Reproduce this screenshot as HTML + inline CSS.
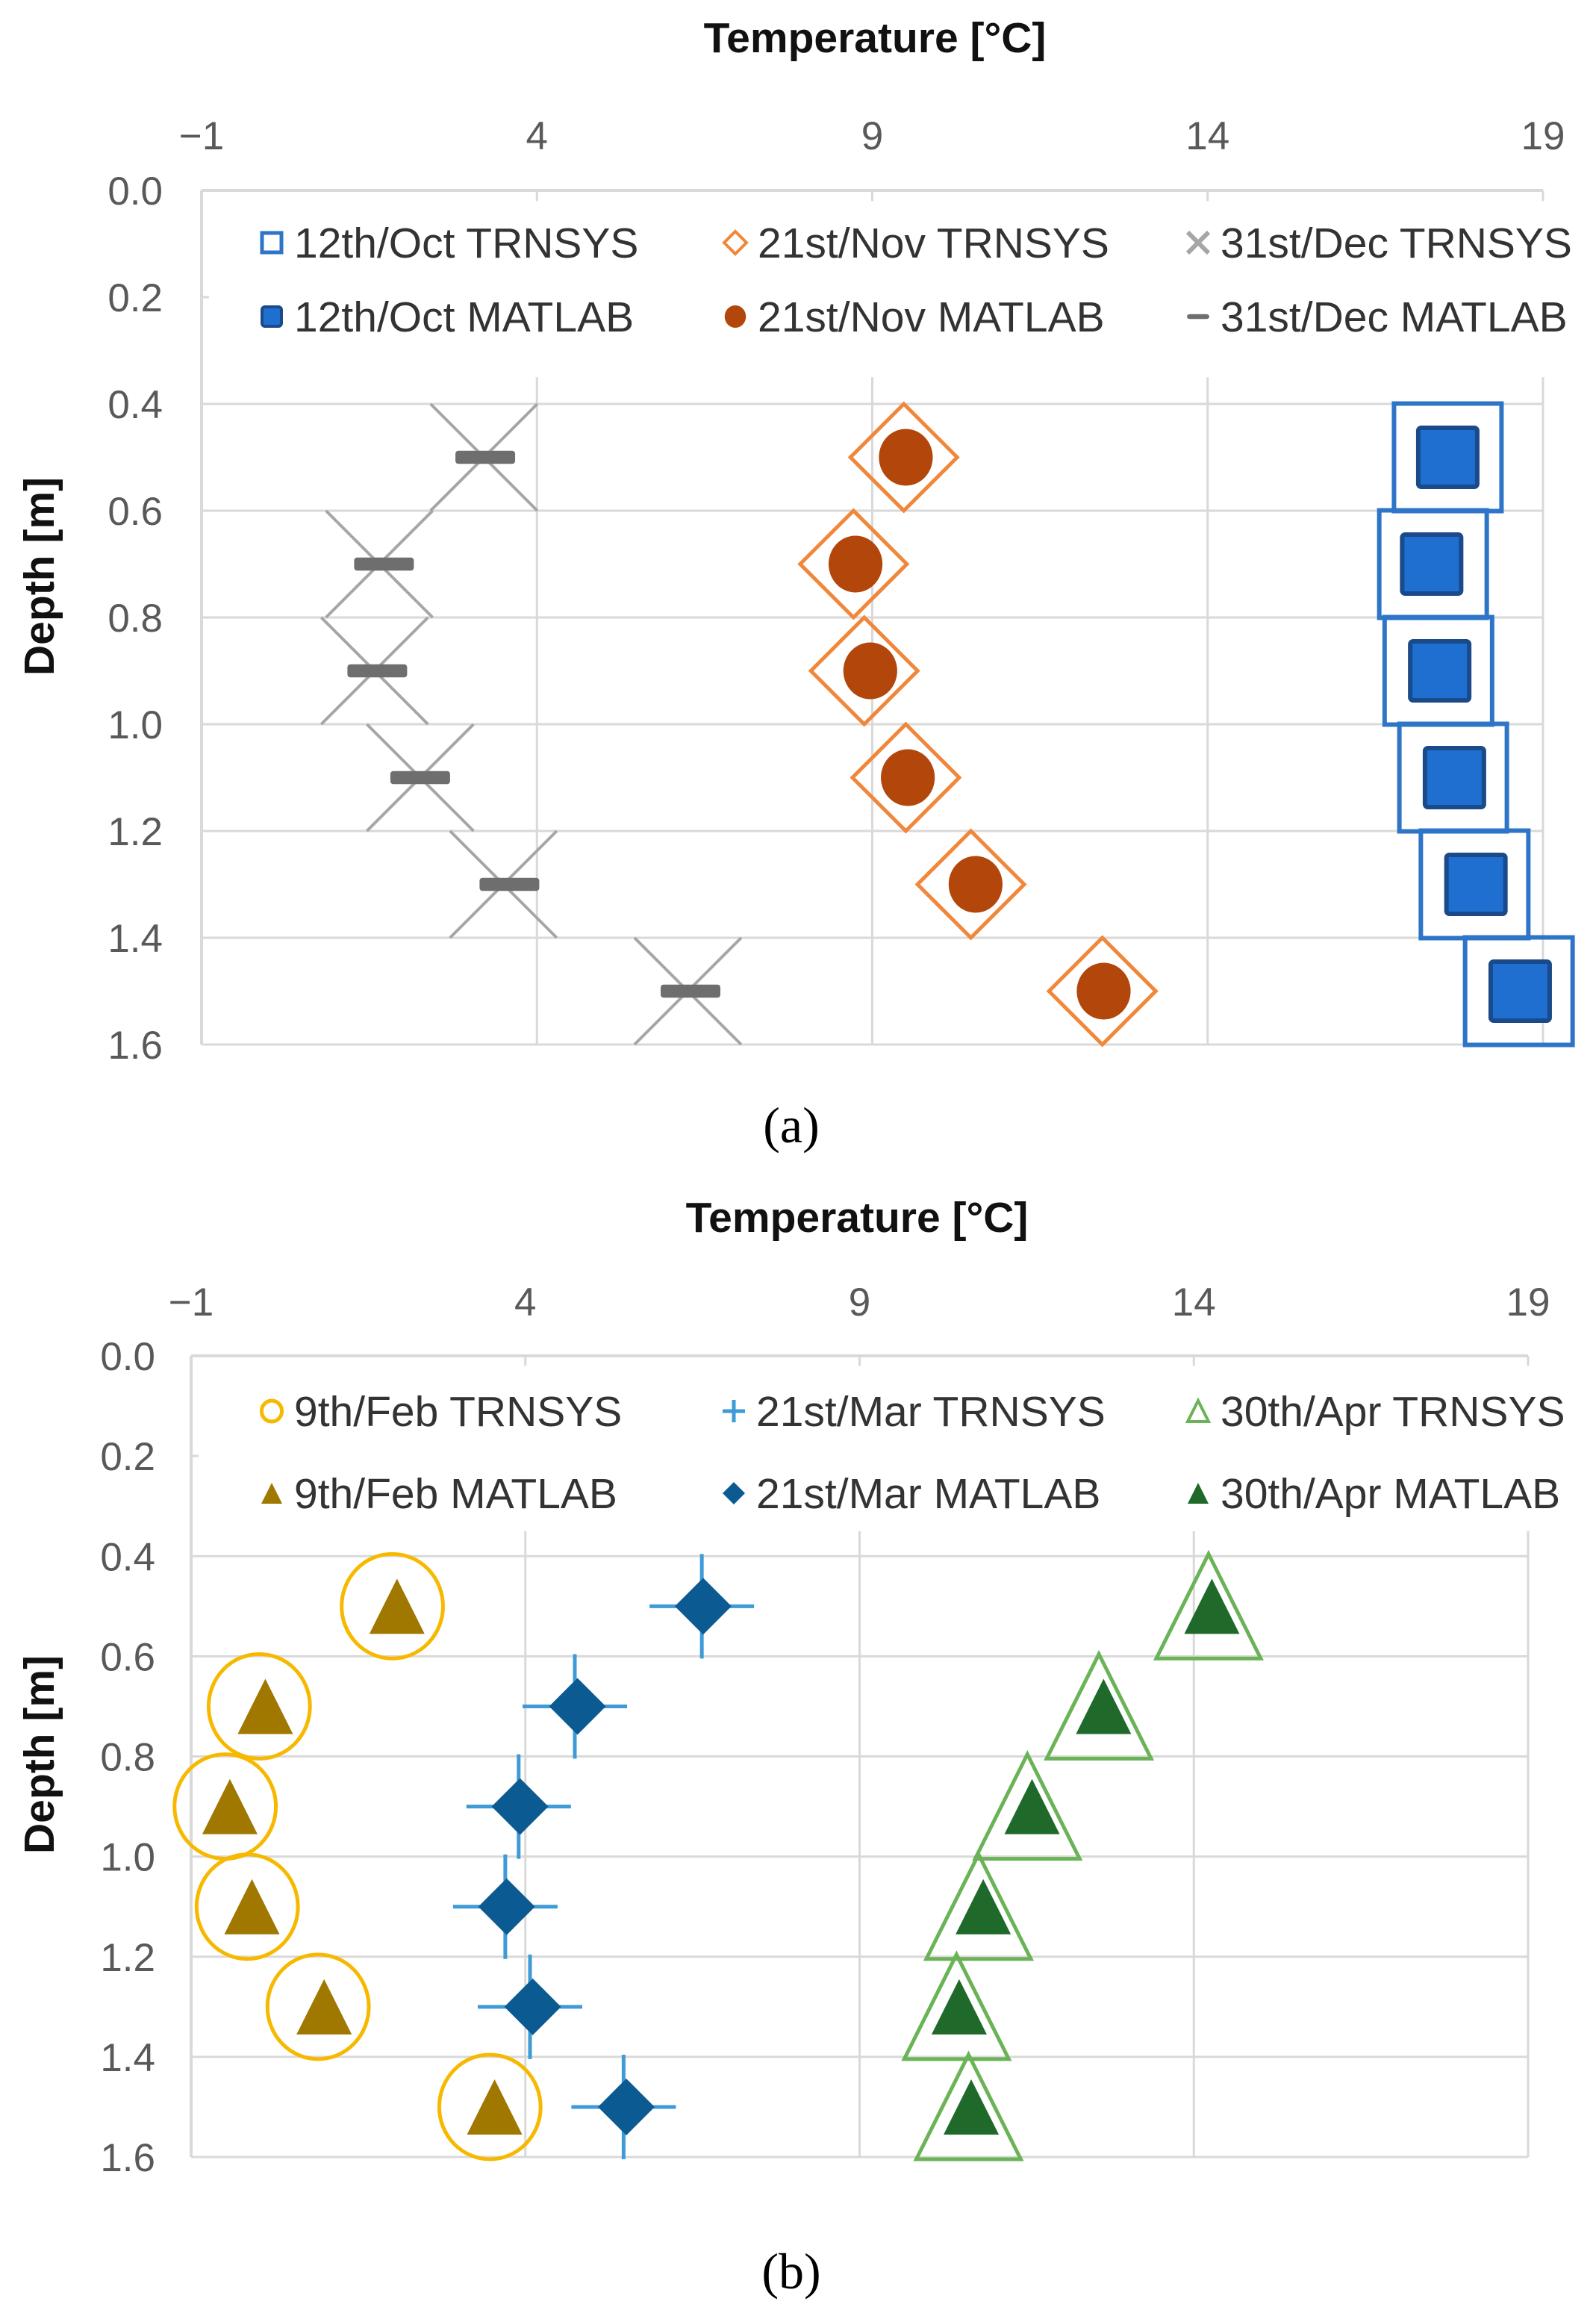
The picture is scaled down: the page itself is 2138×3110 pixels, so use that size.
<!DOCTYPE html>
<html><head><meta charset="utf-8"><style>
html,body{margin:0;padding:0;background:#fff}
svg{display:block}
</style></head><body>
<svg id="fig" width="2138" height="3110" viewBox="0 0 2138 3110" xmlns="http://www.w3.org/2000/svg" font-family="Liberation Sans, Arial, sans-serif">
</svg>
<script>
// ---- data ----
const depths = [0.5, 0.7, 0.9, 1.1, 1.3, 1.5];
const xTicks = [-1, 4, 9, 14, 19];
const yTicks = [0.0, 0.2, 0.4, 0.6, 0.8, 1.0, 1.2, 1.4, 1.6];
const yTickLabels = ["0.0","0.2","0.4","0.6","0.8","1.0","1.2","1.4","1.6"];
const xTickLabels = ["\u22121","4","9","14","19"];
// chart a
const octTrnsys = [17.58, 17.36, 17.44, 17.66, 17.98, 18.64];
const octMatlab = [17.58, 17.34, 17.46, 17.68, 18.00, 18.66];
const novTrnsys = [9.47, 8.72, 8.88, 9.50, 10.47, 12.43];
const novMatlab = [9.50, 8.75, 8.97, 9.53, 10.54, 12.45];
const decTrnsys = [3.21, 1.65, 1.58, 2.26, 3.50, 6.25];
const decMatlab = [3.23, 1.72, 1.62, 2.26, 3.59, 6.29];
// chart b
const febTrnsys = [2.01, 0.02, -0.49, -0.16, 0.90, 3.47];
const febMatlab = [2.08, 0.11, -0.42, -0.09, 0.99, 3.54];
const marTrnsys = [6.64, 4.74, 3.90, 3.70, 4.07, 5.47];
const marMatlab = [6.66, 4.78, 3.92, 3.72, 4.11, 5.51];
const aprTrnsys = [14.22, 12.58, 11.51, 10.78, 10.45, 10.63];
const aprMatlab = [14.27, 12.65, 11.58, 10.85, 10.49, 10.67];

const NS = "http://www.w3.org/2000/svg";
const svg = document.getElementById('fig');
function mk(tag, attrs, parent, text){
  const e = document.createElementNS(NS, tag);
  for (const k in attrs) e.setAttribute(k, attrs[k]);
  if (text !== undefined) e.textContent = text;
  (parent || svg).appendChild(e);
  return e;
}

function chart(P, name){
  const g = mk('g', {});
  
  
  const sx = t => P.x0 + (t + 1) / 20 * (P.x1 - P.x0);
  const sy = d => P.y0 + d / 1.6 * (P.y1 - P.y0);
  xTicks.forEach((t, i) => {
    const l = mk('line', {x1:sx(t), x2:sx(t), y1:P.y0, y2:P.y1, stroke:'#d9d9d9', 'stroke-width':3}, g);
    
    
    const tx = mk('text', {x:sx(t), y:P.xl, 'text-anchor':'middle', 'font-size':53, fill:'#595959'}, g, xTickLabels[i]);
    
    
  });
  yTicks.forEach((d, i) => {
    const l = mk('line', {x1:P.x0, x2:P.x1, y1:sy(d), y2:sy(d), stroke:'#d9d9d9', 'stroke-width':3}, g);
    
    
    const tx = mk('text', {x:P.yl, y:sy(d) + 19, 'text-anchor':'end', 'font-size':53, fill:'#595959'}, g, yTickLabels[i]);
    
    
  });
  const lb = mk('rect', {x:P.x0 + 4, y:sy(0.02), width:P.x1 - P.x0 + 10, height:sy(0.35) - sy(0.02), fill:'#fff'}, g);
  
  
  mk('line', {x1:P.x0, x2:P.x0, y1:P.y0, y2:P.y1, stroke:'#d9d9d9', 'stroke-width':4}, g);
  mk('line', {x1:P.x0, x2:P.x1, y1:P.y0, y2:P.y0, stroke:'#d9d9d9', 'stroke-width':4}, g);
  mk('line', {x1:P.x0, x2:P.x0 + 10, y1:sy(0.2), y2:sy(0.2), stroke:'#d9d9d9', 'stroke-width':3}, g);
  const t1 = mk('text', {x:P.tx, y:P.ty, 'text-anchor':'middle', 'font-size':57, 'font-weight':'bold', fill:'#111'}, g, 'Temperature [°C]');
  
  
  const t2 = mk('text', {x:0, y:0, 'text-anchor':'middle', 'font-size':57, 'font-weight':'bold', fill:'#111', transform:`translate(${P.dyx},${P.dyy}) rotate(-90)`}, g, 'Depth [m]');
  
  
  const cap = mk('text', {x:1060, y:P.cy, 'text-anchor':'middle', 'font-size':68, 'font-family':'Liberation Serif, serif', fill:'#000'}, g, P.cap);
  
  
  return {g, sx, sy};
}

const M = {
  sqOuter:(p,x,y,s)=>mk('rect',{x:x-s/2,y:y-s/2,width:s,height:s,fill:'none',stroke:'#2e75c8','stroke-width':s>50?6:5},p),
  sqInner:(p,x,y,s)=>mk('rect',{x:x-s/2,y:y-s/2,width:s,height:s,rx:4,fill:'#1e6fd0',stroke:'#1a4a8a','stroke-width':s>50?6:4},p),
  diaOut:(p,x,y,s)=>mk('polygon',{points:`${x},${y-s/2} ${x+s/2},${y} ${x},${y+s/2} ${x-s/2},${y}`,fill:'none',stroke:'#f0873a','stroke-width':s>50?5:4},p),
  circ:(p,x,y,s,c)=>mk('ellipse',{cx:x,cy:y,rx:s/2*0.95,ry:s/2,fill:c},p),
  cross:(p,x,y,s)=>mk('path',{d:`M${x-s/2},${y-s/2}L${x+s/2},${y+s/2}M${x+s/2},${y-s/2}L${x-s/2},${y+s/2}`,stroke:'#a6a6a6','stroke-width':s>50?4:6,fill:'none'},p),
  dash:(p,x,y,s)=>mk('rect',{x:x-s/2,y:y-s*0.11,width:s,height:s*0.22,rx:4,fill:'#6e6e6e'},p),
  ring:(p,x,y,s)=>mk('ellipse',{cx:x,cy:y,rx:s/2*0.97,ry:s/2,fill:'none',stroke:'#f7b800','stroke-width':5},p),
  tri:(p,x,y,s,c)=>mk('polygon',{points:`${x},${y-s/2} ${x+s/2},${y+s/2} ${x-s/2},${y+s/2}`,fill:c},p),
  triOut:(p,x,y,s)=>mk('polygon',{points:`${x},${y-s/2} ${x+s/2},${y+s/2} ${x-s/2},${y+s/2}`,fill:'none',stroke:'#6ab356','stroke-width':s>50?5:4},p),
  plus:(p,x,y,s)=>mk('path',{d:`M${x-s/2},${y}L${x+s/2},${y}M${x},${y-s/2}L${x},${y+s/2}`,stroke:'#3f9bd8','stroke-width':5,fill:'none'},p),
  diaFill:(p,x,y,s)=>mk('polygon',{points:`${x},${y-s/2} ${x+s/2},${y} ${x},${y+s/2} ${x-s/2},${y}`,fill:'#0b5b92'},p)
};

function series(C, vals, name, draw, size, color){
  const g = mk('g', {}, C.g);
  
  
  vals.forEach((v, i) => {
    const e = draw(g, C.sx(v), C.sy(depths[i]), size, color);
    
    
  });
}
function legend(C, x, y, draw, size, color, label, name){
  const g = mk('g', {}, C.g);
  
  
  draw(g, x, y, size, color);
  mk('text', {x:x + 30, y:y + 20, 'font-size':57, fill:'#333'}, g, label);
}

// ---- chart a ----
const A = chart({x0:270, x1:2067, y0:255, y1:1399, xl:200, yl:218, tx:1172, ty:70, dyx:72, dyy:772, cy:1530, cap:'(a)'}, 'chart-a');
series(A, decTrnsys, 'dec-trnsys', M.cross, 143);
series(A, decMatlab, 'dec-matlab', M.dash, 80);
series(A, novTrnsys, 'nov-trnsys', M.diaOut, 143);
series(A, novMatlab, 'nov-matlab', M.circ, 76, '#b3470b');
series(A, octTrnsys, 'oct-trnsys', M.sqOuter, 144);
series(A, octMatlab, 'oct-matlab', M.sqInner, 79);
const lx = [364, 985, 1605], ly1 = 325, ly2 = 424;
legend(A, lx[0], ly1, M.sqOuter, 26, null, '12th/Oct  TRNSYS', 'legend-oct-trnsys');
legend(A, lx[0], ly2, M.sqInner, 26, null, '12th/Oct  MATLAB', 'legend-oct-matlab');
legend(A, lx[1], ly1, M.diaOut, 30, null, '21st/Nov TRNSYS', 'legend-nov-trnsys');
legend(A, lx[1], ly2, M.circ, 30, '#b3470b', '21st/Nov MATLAB', 'legend-nov-matlab');
legend(A, lx[2], ly1, M.cross, 28, null, '31st/Dec TRNSYS', 'legend-dec-trnsys');
legend(A, lx[2], ly2, M.dash, 30, null, '31st/Dec MATLAB', 'legend-dec-matlab');

// ---- chart b ----
const B = chart({x0:256, x1:2047, y0:1816, y1:2889, xl:1762, yl:208, tx:1148, ty:1650, dyx:72, dyy:2350, cy:3065, cap:'(b)'}, 'chart-b');
series(B, febTrnsys, 'feb-trnsys', M.ring, 140);
series(B, febMatlab, 'feb-matlab', M.tri, 74, '#a07800');
series(B, marTrnsys, 'mar-trnsys', M.plus, 140);
series(B, marMatlab, 'mar-matlab', M.diaFill, 76);
series(B, aprTrnsys, 'apr-trnsys', M.triOut, 140);
series(B, aprMatlab, 'apr-matlab', M.tri, 74, '#1f6a2a');
const by1 = 1890, by2 = 2000;
legend(B, lx[0], by1, M.ring, 28, null, ' 9th/Feb  TRNSYS', 'legend-feb-trnsys');
legend(B, lx[0], by2, M.tri, 28, '#a07800', ' 9th/Feb  MATLAB', 'legend-feb-matlab');
legend(B, lx[1] - 2, by1, M.plus, 30, null, '21st/Mar TRNSYS', 'legend-mar-trnsys');
legend(B, lx[1] - 2, by2, M.diaFill, 30, null, '21st/Mar MATLAB', 'legend-mar-matlab');
legend(B, lx[2], by1, M.triOut, 28, null, '30th/Apr TRNSYS', 'legend-apr-trnsys');
legend(B, lx[2], by2, M.tri, 28, '#1f6a2a', '30th/Apr MATLAB', 'legend-apr-matlab');
</script>
</body></html>
